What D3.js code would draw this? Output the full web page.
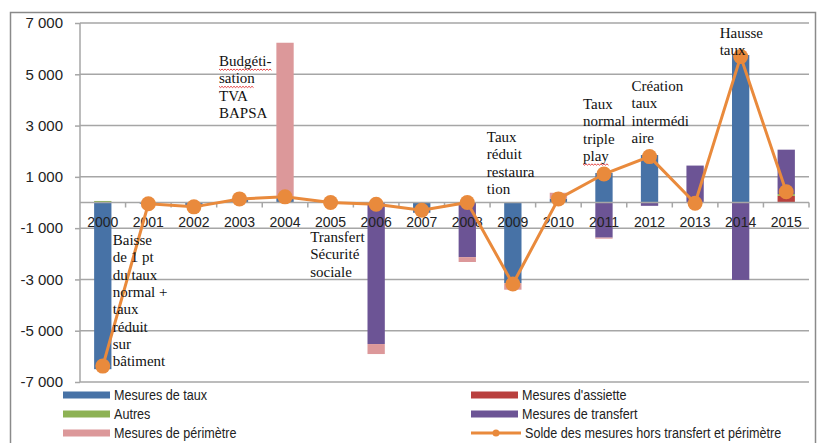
<!DOCTYPE html>
<meta charset="utf-8">
<html lang="fr">
<head>
    <meta charset="UTF-8">
    <title>D3</title>
    <script src="https://d3js.org/d3.v7.min.js"></script>
    <style>
        body { margin: 0; background: #fff; }
    </style>
</head>
<body>
    <div id="viz"></div>
    <script>
        // data (millions)
        const years = ["2000","2001","2002","2003","2004","2005","2006","2007","2008","2009","2010","2011","2012","2013","2014","2015"];
        const taux      = [-6500, -50, -170, 140, 200, 0, 0, -400, 0, -3150, 150, 1150, 1850, 0, 5750, 0];
        const assiette  = [0, 0, 0, 0, 0, 0, 0, 0, 0, 0, 0, 0, 0, 0, 0, 260];
        const autres    = [60, 0, 0, 0, 0, 0, 0, 0, 0, 0, 0, 0, 0, 0, 0, 70];
        const transfert = [0, 0, 0, 0, 0, 0, -5520, 0, -2130, 0, 0, -1370, -130, 1440, -3020, 1730];
        const perimetre = [0, 0, 0, 0, 6030, 0, -390, 0, -190, -250, 230, -40, 0, 0, 0, 0];
        const solde     = [-6380, -50, -170, 140, 220, 0, -70, -300, 0, -3180, 140, 1110, 1790, -30, 5690, 420];
        const yTicks = [7000, 5000, 3000, 1000, -1000, -3000, -5000, -7000];

        const seriesNames = ["Mesures de taux", "Mesures d'assiette", "Autres", "Mesures de transfert", "Mesures de périmètre"];
        const seriesData = [taux, assiette, autres, transfert, perimetre];
        const colors = ["#4772a6", "#b9403e", "#8db254", "#6c5495", "#dc989a"];
        const lineName = "Solde des mesures hors transfert et périmètre";
        const lineColor = "#e98a3c";

        const notes = [
            {year: "2004", dx: -66, y: 66, lines: ["Budgéti-", "sation", "TVA", "BAPSA"], wavy: [0, 1]},
            {year: "2000", dx: 10, y: 245, lines: ["Baisse", "de 1 pt", "du taux", "normal +", "taux", "réduit", "sur", "bâtiment"], wavy: []},
            {year: "2006", dx: -66, y: 242, lines: ["Transfert", "Sécurité", "sociale"], wavy: []},
            {year: "2009", dx: -26, y: 142, lines: ["Taux", "réduit", "restaura", "tion"], wavy: []},
            {year: "2011", dx: -21, y: 109, lines: ["Taux", "normal", "triple", "play"], wavy: [3]},
            {year: "2012", dx: -18, y: 91, lines: ["Création", "taux", "intermédi", "aire"], wavy: []},
            {year: "2014", dx: -21, y: 38, lines: ["Hausse", "taux"], wavy: []}
        ];

        const W = 820, H = 443;
        const svg = d3.select("#viz").append("svg")
            .attr("width", W).attr("height", H);

        // outer frame
        svg.append("rect")
            .attr("x", 10.5).attr("y", 12.5)
            .attr("width", 805).attr("height", 445)
            .attr("fill", "none").attr("stroke", "#8a8a8a").attr("stroke-width", 1.5);

        const x = d3.scaleBand().domain(years).range([80, 809]).paddingInner(0.62).paddingOuter(0.31);
        const y = d3.scaleLinear().domain([-7000, 7000]).range([382, 23]);

        // gridlines
        svg.append("g")
            .selectAll("line").data(yTicks).join("line")
            .attr("x1", 80).attr("x2", 809)
            .attr("y1", d => y(d)).attr("y2", d => y(d))
            .attr("stroke", "#a6a6a6").attr("stroke-width", 1.5);

        // y axis
        const yAxis = svg.append("g")
            .attr("transform", "translate(80,0)")
            .call(d3.axisLeft(y).tickValues(yTicks).tickSize(5).tickPadding(12)
                .tickFormat(d => d3.format(",")(d).replace(",", " ").replace("−", "-")));
        yAxis.select(".domain").attr("stroke", "#a6a6a6").attr("stroke-width", 1.5).attr("d", `M0,${y(7000)}V${y(-7000)}`);
        yAxis.selectAll(".tick line").attr("stroke", "#a6a6a6").attr("stroke-width", 1.5);
        yAxis.selectAll("text")
            .attr("font-family", "'Liberation Sans', Arial, sans-serif")
            .attr("font-size", 15).attr("fill", "#222");

        // stacked bars
        const rows = years.map((yr, i) => {
            const r = {year: yr};
            seriesNames.forEach((s, k) => r[s] = seriesData[k][i]);
            return r;
        });
        const stack = d3.stack().keys(seriesNames).offset(d3.stackOffsetDiverging)(rows);

        svg.append("g")
            .selectAll("g").data(stack).join("g")
            .attr("fill", (d, k) => colors[k])
            .selectAll("rect").data(d => d).join("rect")
            .attr("x", d => x(d.data.year))
            .attr("width", x.bandwidth())
            .attr("y", d => y(Math.max(d[0], d[1])))
            .attr("height", d => Math.abs(y(d[0]) - y(d[1])));

        // zero axis with category ticks
        const step = x.step();
        const zero = svg.append("g");
        zero.append("line")
            .attr("x1", 80).attr("x2", 809)
            .attr("y1", y(0)).attr("y2", y(0))
            .attr("stroke", "#a6a6a6").attr("stroke-width", 1.5);
        zero.selectAll("line.tk").data(years).join("line")
            .attr("class", "tk")
            .attr("x1", d => x(d) + x.bandwidth() / 2 + step / 2)
            .attr("x2", d => x(d) + x.bandwidth() / 2 + step / 2)
            .attr("y1", y(0)).attr("y2", y(0) + 5)
            .attr("stroke", "#a6a6a6").attr("stroke-width", 1.5);
        zero.selectAll("text").data(years).join("text")
            .attr("x", d => x(d) + x.bandwidth() / 2)
            .attr("y", y(0) + 24)
            .attr("text-anchor", "middle")
            .attr("font-family", "'Liberation Sans', Arial, sans-serif")
            .attr("font-size", 14).attr("fill", "#222")
            .text(d => d);

        // line + markers
        const cx = (d, i) => x(years[i]) + x.bandwidth() / 2;
        svg.append("path")
            .datum(solde)
            .attr("fill", "none")
            .attr("stroke", lineColor)
            .attr("stroke-width", 3)
            .attr("d", d3.line().x(cx).y(d => y(d)));
        svg.append("g")
            .selectAll("circle").data(solde).join("circle")
            .attr("cx", cx).attr("cy", d => y(d))
            .attr("r", 7.5).attr("fill", lineColor);

        // annotations (with the red spell-check squiggle seen in the source)
        notes.forEach(n => {
            const g = svg.append("g");
            const t = g.append("text")
                .attr("font-family", "'Liberation Serif', 'Times New Roman', serif")
                .attr("font-size", 15).attr("fill", "#111");
            n.lines.forEach((l, j) => {
                const x0 = x(n.year) + x.bandwidth() / 2 + n.dx;
                const y0 = n.y + j * 17.3;
                const ts = t.append("tspan").attr("x", x0).attr("y", y0).text(l);
                if (n.wavy.includes(j)) {
                    const w = ts.node().getComputedTextLength();
                    const pts = d3.range(0, w + 0.1, 1.5).map((v, k) => [x0 + v, y0 + 3 + (k % 2 ? 1.3 : 0)]);
                    g.append("path")
                        .attr("d", d3.line()(pts))
                        .attr("fill", "none").attr("stroke", "#e03030").attr("stroke-width", 0.9);
                }
            });
        });

        // legend
        const legendItems = seriesNames.map((s, k) => ({name: s, color: colors[k], line: false}))
            .concat([{name: lineName, color: lineColor, line: true}]);
        const leg = svg.append("g")
            .selectAll("g").data(legendItems).join("g")
            .attr("transform", (d, i) => `translate(${i % 2 ? 471 : 63},${395 + Math.floor(i / 2) * 19})`);
        leg.filter(d => !d.line).append("rect")
            .attr("x", 0).attr("y", -3.5).attr("width", 47).attr("height", 7)
            .attr("fill", d => d.color);
        leg.filter(d => d.line).append("line")
            .attr("x1", 0).attr("x2", 50).attr("y1", 0).attr("y2", 0)
            .attr("stroke", d => d.color).attr("stroke-width", 3);
        leg.filter(d => d.line).append("circle")
            .attr("cx", 25).attr("cy", 0).attr("r", 3.5)
            .attr("fill", d => d.color);
        // the source font is condensed (Calibri-like): squeeze horizontally
        leg.append("text")
            .attr("transform", d => `translate(${d.line ? 54 : 51},0) scale(0.84,1)`)
            .attr("dy", "0.35em")
            .attr("font-family", "'Liberation Sans', Arial, sans-serif")
            .attr("font-size", 15).attr("fill", "#222")
            .text(d => d.name);
    </script>
</body>
</html>
